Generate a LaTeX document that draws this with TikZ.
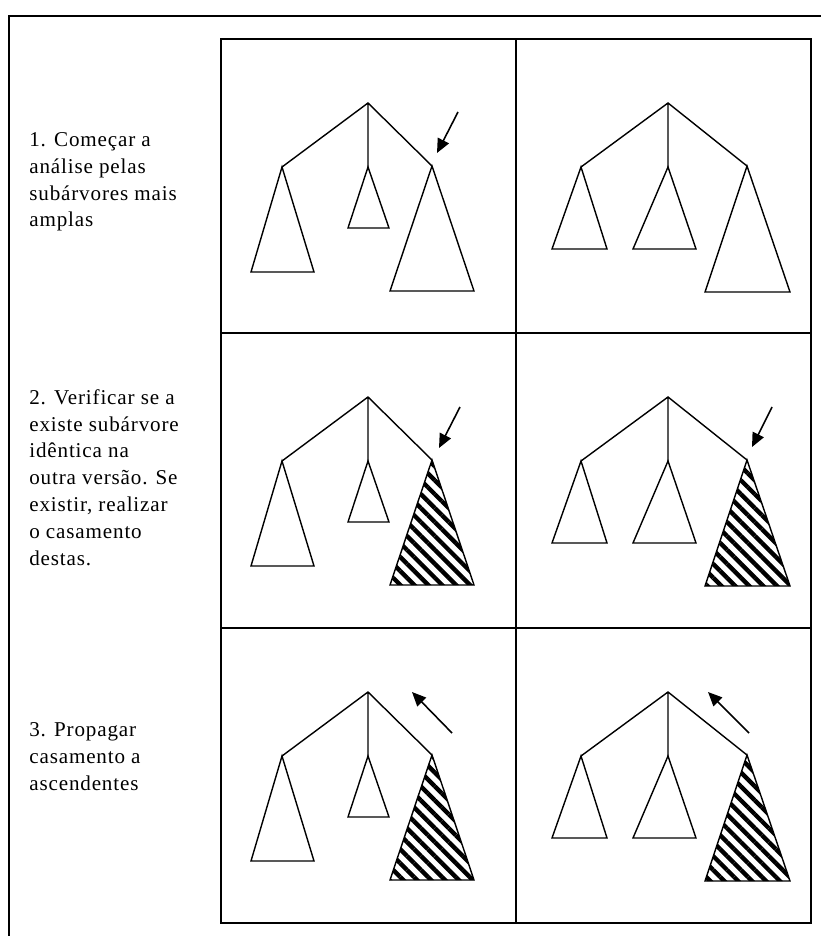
\documentclass[tikz,border=0pt]{standalone}
\usepackage{fontspec}
\setmainfont{Liberation Serif}[LetterSpace=4]
\usetikzlibrary{arrows.meta,patterns.meta}

\tikzset{
  tree/.style={line width=0.8pt},
  rtri/.style={tree},
  hatch/.style={tree, pattern={Lines[angle=-45,distance=5.6pt,line width=2.5pt]}},
  % tree with three subtrees, the middle one small
  treea/.pic={
    \draw[tree] (61,128) -- (147,64) -- (211,127) (147,64) -- (147,128);
    \draw[tree] (61,128) -- (30,233) -- (93,233) -- cycle;
    \draw[tree] (147,128) -- (127,189) -- (168,189) -- cycle;
    \draw[rtri] (211,127) -- (169,252) -- (253,252) -- cycle;
  },
  % other version of the tree
  treeb/.pic={
    \draw[tree] (65,128) -- (152,64) -- (231,127) (152,64) -- (152,128);
    \draw[tree] (65,128) -- (36,210) -- (91,210) -- cycle;
    \draw[tree] (152,128) -- (117,210) -- (180,210) -- cycle;
    \draw[rtri] (231,127) -- (189,253) -- (274,253) -- cycle;
  }
}

\begin{document}
\begin{tikzpicture}[x=0.02cm, y=-0.02cm, every node/.style={font=\fontsize{12}{15.3}\selectfont}, txt/.style={align=left, anchor=north west, inner sep=0pt}, frame/.style={line width=1.1pt}, arr/.style={-{Triangle[length=8pt,width=7pt]}, line width=0.9pt}]
\useasboundingbox (0,0) rectangle (821,936);
\draw[frame] (821,16) -- (9,16) -- (9,936);
\draw[frame] (221,39) rectangle (811,923);
\draw[frame] (516,39) -- (516,923) (221,333) -- (811,333) (221,628) -- (811,628);

\node[txt] (passo1) at (29,132) {1. Começar a\\análise pelas\\subárvores mais\\amplas};
\node[txt] (passo2) at (29,389) {2. Verificar se a\\existe subárvore\\idêntica na\\outra versão. Se\\existir, realizar\\o casamento\\destas.};
\node[txt] (passo3) at (29,722) {3. Propagar\\casamento a\\ascendentes};

\pic at (221,39) {treea};
\pic at (516,39) {treeb};
\begin{scope}[rtri/.style={hatch}]
\pic at (221,333) {treea};
\pic at (516,333) {treeb};
\pic at (221,628) {treea};
\pic at (516,628) {treeb};
\end{scope}

\coordinate (t1) at (458,112); \coordinate (h1) at (437,153);
\coordinate (t2) at (460,407); \coordinate (h2) at (439,448);
\coordinate (t3) at (772,407); \coordinate (h3) at (752,447);
\coordinate (t4) at (452,733); \coordinate (h4) at (412,692);
\coordinate (t5) at (749,733); \coordinate (h5) at (708,692);
\draw[arr] (t1) -- (h1); \draw[arr] (t2) -- (h2); \draw[arr] (t3) -- (h3);
\draw[arr] (t4) -- (h4); \draw[arr] (t5) -- (h5);
\end{tikzpicture}
\end{document}
